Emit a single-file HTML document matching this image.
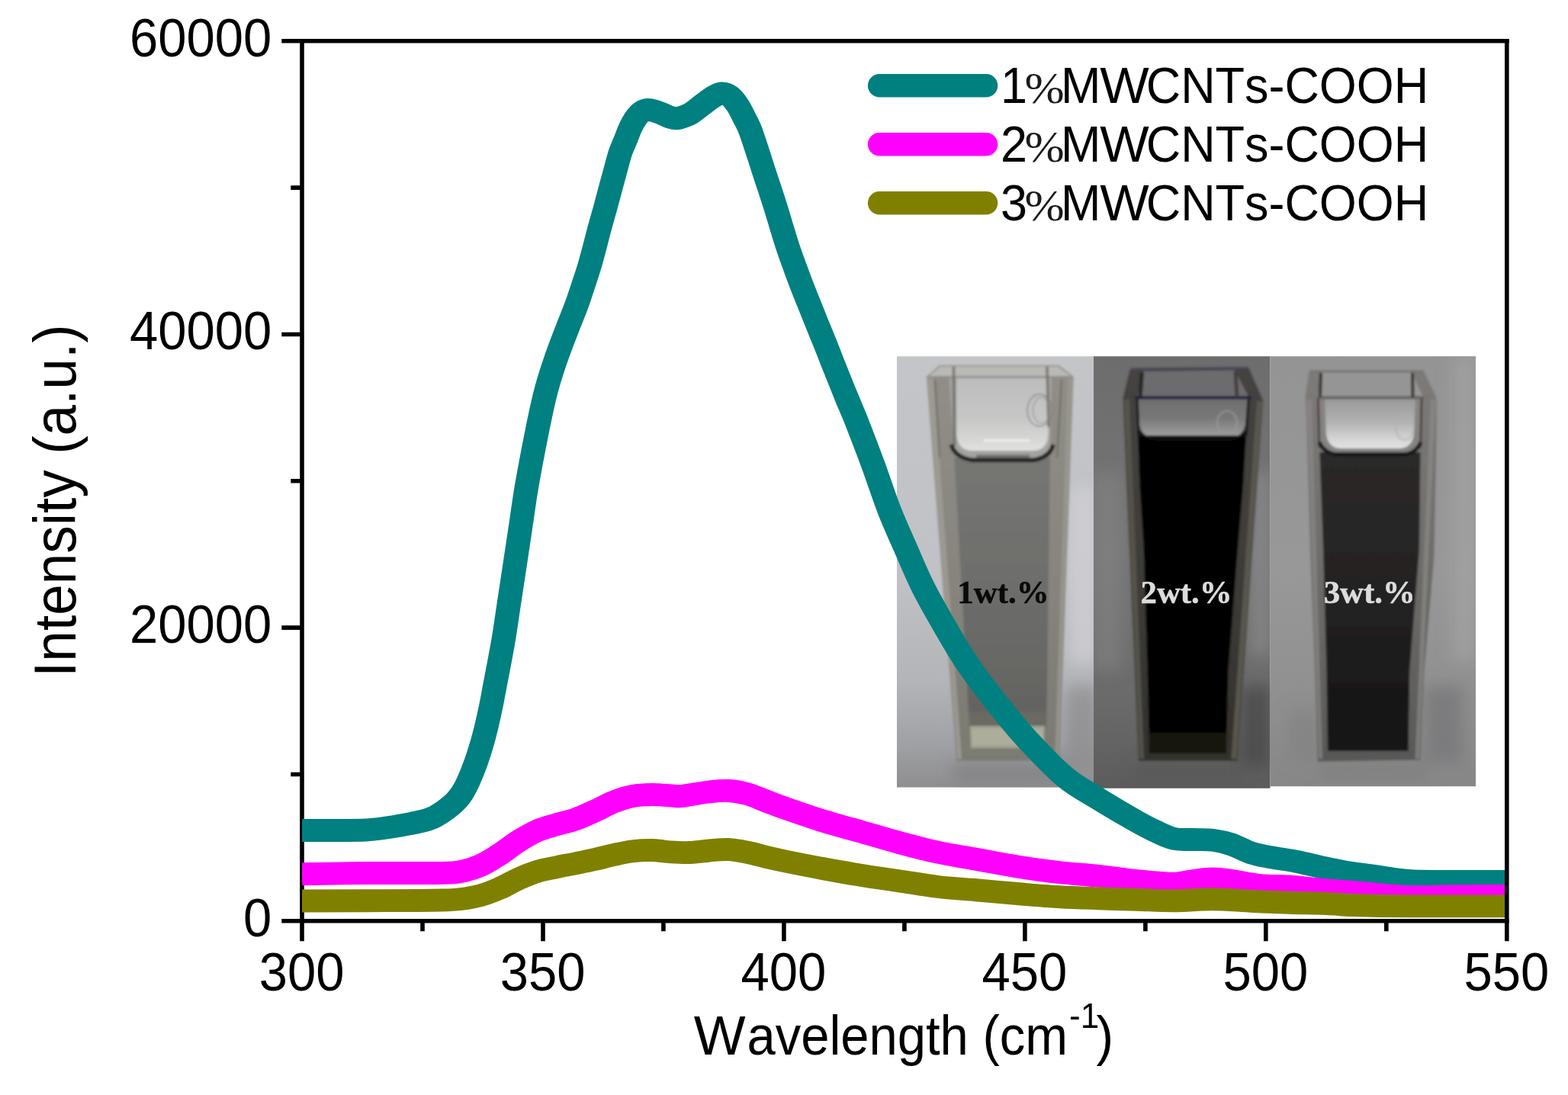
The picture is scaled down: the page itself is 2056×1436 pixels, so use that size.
<!DOCTYPE html>
<html lang="en"><head><meta charset="utf-8"><title>PL spectra of MWCNTs-COOH</title>
<style>html,body{margin:0;padding:0;background:#fff}body{width:2056px;height:1436px;overflow:hidden}svg{display:block}text{font-family:"Liberation Sans",sans-serif;fill:#000;font-kerning:none}.s{font-family:"Liberation Serif",serif}</style></head><body>
<svg xmlns="http://www.w3.org/2000/svg" width="2056" height="1436" viewBox="0 0 2056 1436">
<defs><clipPath id="plot"><rect x="396.0" y="0" width="1580.0" height="1436"/></clipPath></defs>
<rect width="2056" height="1436" fill="#fff"/>
<g stroke="#000" stroke-width="5.6" fill="none" stroke-linecap="butt">
<path d="M396.0,51.0 V1234.3"/>
<path d="M369.3,53.8 H1978.6"/>
</g>
<defs>
<filter id="b1" x="-5%" y="-5%" width="110%" height="110%"><feGaussianBlur stdDeviation="1.4"/></filter>
<filter id="b3" x="-20%" y="-20%" width="140%" height="140%"><feGaussianBlur stdDeviation="3"/></filter>
<filter id="b8" x="-40%" y="-40%" width="180%" height="180%"><feGaussianBlur stdDeviation="10"/></filter>
<clipPath id="p1"><rect x="1176" y="467.2" width="258" height="565.3"/></clipPath>
<clipPath id="p2"><rect x="1434" y="467.2" width="231.4" height="566.5"/></clipPath>
<clipPath id="p3"><rect x="1665.4" y="467.2" width="269.6" height="564"/></clipPath>
<linearGradient id="g1" x1="0" y1="0" x2="0" y2="1"><stop offset="0" stop-color="#c4c5c8"/><stop offset="0.5" stop-color="#c1c2c6"/><stop offset="0.75" stop-color="#b4b5b9"/><stop offset="0.9" stop-color="#a0a1a4"/><stop offset="1" stop-color="#8e8e91"/></linearGradient>
<linearGradient id="g2" x1="0" y1="0" x2="0" y2="1"><stop offset="0" stop-color="#6d6d6d"/><stop offset="0.45" stop-color="#767676"/><stop offset="0.8" stop-color="#6a6a6a"/><stop offset="1" stop-color="#5c5c5d"/></linearGradient>
<linearGradient id="g3" x1="0" y1="0" x2="0" y2="1"><stop offset="0" stop-color="#949494"/><stop offset="0.5" stop-color="#989898"/><stop offset="0.85" stop-color="#8e8e8e"/><stop offset="1" stop-color="#878788"/></linearGradient>
<linearGradient id="air1" x1="0" y1="0" x2="0" y2="1"><stop offset="0" stop-color="#bcbcbc"/><stop offset="0.55" stop-color="#c6c6c6"/><stop offset="0.85" stop-color="#d6d6d4"/><stop offset="1" stop-color="#e2e2e0"/></linearGradient>
<linearGradient id="air2" x1="0" y1="0" x2="0" y2="1"><stop offset="0" stop-color="#6e6e70"/><stop offset="0.5" stop-color="#787878"/><stop offset="0.85" stop-color="#959595"/><stop offset="1" stop-color="#a4a4a4"/></linearGradient>
<linearGradient id="air3" x1="0" y1="0" x2="0" y2="1"><stop offset="0" stop-color="#9a9a9a"/><stop offset="0.45" stop-color="#b0b0b0"/><stop offset="0.8" stop-color="#d4d4d4"/><stop offset="1" stop-color="#e4e4e4"/></linearGradient>
<linearGradient id="liq1" x1="0" y1="0" x2="0" y2="1"><stop offset="0" stop-color="#757573"/><stop offset="0.5" stop-color="#6d6d6b"/><stop offset="1" stop-color="#636361"/></linearGradient>
<linearGradient id="liq3" x1="0" y1="0" x2="0" y2="1"><stop offset="0" stop-color="#2b2929"/><stop offset="0.5" stop-color="#232222"/><stop offset="1" stop-color="#121212"/></linearGradient>
<linearGradient id="w1" x1="0" y1="0" x2="0" y2="1"><stop offset="0" stop-color="#908e86"/><stop offset="0.6" stop-color="#85837b"/><stop offset="1" stop-color="#7a7a72"/></linearGradient>
<linearGradient id="w2" x1="0" y1="0" x2="0" y2="1"><stop offset="0" stop-color="#444240"/><stop offset="0.5" stop-color="#3e3c38"/><stop offset="1" stop-color="#32302c"/></linearGradient>
<linearGradient id="w3" x1="0" y1="0" x2="0" y2="1"><stop offset="0" stop-color="#7c7a78"/><stop offset="0.5" stop-color="#6e6c6a"/><stop offset="1" stop-color="#585856"/></linearGradient>
</defs>
<g id="photo">
<g clip-path="url(#p1)">
<rect x="1176" y="467" width="258" height="566" fill="url(#g1)"/>
<g filter="url(#b8)">
<rect x="1403" y="640" width="34" height="230" fill="#cfd0d5" opacity="0.8"/>
<rect x="1398" y="900" width="40" height="110" fill="#8a8a8d" opacity="0.7"/>
<rect x="1250" y="1000" width="150" height="26" fill="#7e7e80" opacity="0.7"/>
</g>
<g filter="url(#b1)">
<polygon points="1232.0,479.0 1388.0,479.0 1407.5,494.0 1389.0,997.6 1254.4,997.6 1215.0,494.0" fill="url(#w1)"/>
<polygon points="1216.0,496.0 1224.0,496.0 1261.2,995.0 1255.2,995.0" fill="#a09e96" opacity="0.8"/>
<polygon points="1400.0,496.0 1406.5,496.0 1388.1,995.0 1383.1,995.0" fill="#9a9890" opacity="0.8"/>
<polygon points="1233.0,480.5 1387.0,480.5 1405.0,494.0 1217.0,494.0" fill="#b9b9b5"/>
<path d="M1244.3,494 H1379.1 L1377.0,584 Q1376.8,606 1358,606 H1272 Q1251.3,606 1250.4,584 Z" fill="#a3a39f"/>
<path d="M1254,494 H1375 L1374.5,570 Q1373,591 1354,591 H1275 Q1256,591 1254.5,570 Z" fill="url(#air1)"/>
<rect x="1290" y="576" width="60" height="3" fill="#f4f4f2" opacity="0.8"/>
<polygon points="1251.3,600.0 1376.8,600.0 1372.5,934.0 1270.0,934.0" fill="url(#liq1)"/>
<polygon points="1270.0,934.0 1372.5,934.0 1372.0,953.0 1271.0,953.0" fill="#6a6a63"/>
<polygon points="1272.0,952.0 1369.5,952.0 1369.0,981.0 1273.0,981.0" fill="#a3a393"/>
<polygon points="1274.0,956.0 1367.0,956.0 1367.0,977.0 1275.0,977.0" fill="#adad9c"/>
<path d="M1218,494.5 H1404" stroke="#8e8c84" stroke-width="2.5" fill="none"/>
<path d="M1250.5,481 L1251.5,585 M1373,481 L1375,560" stroke="#6c6a62" stroke-width="3.5" fill="none" opacity="0.85"/>
<path d="M1226,498 L1232,600 M1392,498 L1386,600" stroke="#5e5c56" stroke-width="2" fill="none" opacity="0.7"/>
<path d="M1247.3,583 Q1252,600 1276,603.5 H1354 Q1377,600 1381.0,583" stroke="#242424" stroke-width="5.5" fill="none"/>
<path d="M1280,599 H1350" stroke="#4a4a4a" stroke-width="5" fill="none" opacity="0.6"/>
<ellipse cx="1363" cy="538" rx="16" ry="21" stroke="#7e7e7e" stroke-width="1.3" fill="none"/>
<ellipse cx="1365.5" cy="538" rx="11" ry="17" stroke="#8c8c8c" stroke-width="1.1" fill="none"/>
</g></g>
<g clip-path="url(#p2)">
<rect x="1434" y="467" width="232" height="567" fill="url(#g2)"/>
<g filter="url(#b8)">
<rect x="1434" y="620" width="36" height="260" fill="#858585" opacity="0.55"/>
<rect x="1640" y="620" width="26" height="240" fill="#8c8c8e" opacity="0.7"/>
<rect x="1626" y="900" width="40" height="105" fill="#474748" opacity="0.75"/>
<rect x="1490" y="1000" width="140" height="24" fill="#555556" opacity="0.6"/>
</g>
<g filter="url(#b1)">
<polygon points="1482.0,484.0 1637.0,482.0 1656.0,525.0 1622.2,997.6 1493.2,997.6 1472.5,522.0" fill="url(#w2)"/>
<polygon points="1474.0,524.0 1481.0,524.0 1500.1,995.0 1494.1,995.0" fill="#57554c" opacity="0.9"/>
<polygon points="1648.0,526.0 1655.0,526.0 1621.4,995.0 1614.4,995.0" fill="#5c5a50" opacity="0.9"/>
<polygon points="1499.0,487.0 1619.0,485.5 1637.0,520.0 1491.0,521.0" fill="#6c6c6e"/>
<path d="M1493,523 H1636 L1633,556 Q1629,574 1612,574 H1514 Q1497,574 1494,556 Z" fill="url(#air2)"/>
<polygon points="1492.0,571.0 1634.0,571.0 1630.0,638.0 1623.0,720.0 1610.5,880.0 1608.5,961.0 1506.5,961.0 1504.6,880.0 1499.7,720.0 1494.4,638.0" fill="#020202"/>
<polygon points="1506.5,961.0 1608.5,961.0 1608.0,988.0 1507.0,988.0" fill="#15150c"/>
<path d="M1488.5,521.5 H1640.6" stroke="#1d1d40" stroke-width="4" fill="none"/>
<path d="M1483,484 L1636,482.6" stroke="#48485a" stroke-width="3" fill="none"/>
<path d="M1497.5,488 L1495,521" stroke="#262626" stroke-width="5" fill="none"/>
<path d="M1620,487 L1622,521" stroke="#463c3c" stroke-width="5" fill="none"/>
<path d="M1491,524 L1493,572 M1637,524 L1634,572" stroke="#161616" stroke-width="3" fill="none"/>
<path d="M1494,566 Q1500,575 1516,576 H1612 Q1628,575 1633,566" stroke="#0a0a0a" stroke-width="4" fill="none"/>
<ellipse cx="1609" cy="554" rx="13" ry="15" stroke="#9a9a9a" stroke-width="2.2" fill="none" opacity="0.8"/>
</g></g>
<g clip-path="url(#p3)">
<rect x="1665" y="467" width="271" height="565" fill="url(#g3)"/>
<g filter="url(#b8)">
<rect x="1868" y="900" width="50" height="100" fill="#78787a" opacity="0.8"/>
<rect x="1690" y="930" width="40" height="70" fill="#808082" opacity="0.6"/>
<rect x="1730" y="1000" width="140" height="20" fill="#7a7a7c" opacity="0.6"/>
<rect x="1905" y="467" width="30" height="400" fill="#a4a4a4" opacity="0.7"/>
</g>
<g filter="url(#b1)">
<polygon points="1716.5,486.0 1866.7,486.0 1883.6,522.0 1883.6,560.0 1880.3,730.0 1867.2,880.0 1862.0,996.5 1728.0,998.5 1724.3,880.0 1718.5,730.0 1712.8,540.0 1711.7,522.0" fill="url(#w3)"/>
<polygon points="1713.5,524.0 1720.0,524.0 1734.0,995.0 1729.0,995.0" fill="#8a8886" opacity="0.7"/>
<polygon points="1876.0,524.0 1882.5,524.0 1861.0,995.0 1855.5,995.0" fill="#8c8a86" opacity="0.7"/>
<polygon points="1733.0,488.5 1851.0,488.5 1866.0,520.5 1728.0,520.5" fill="#959595"/>
<path d="M1729,523 H1864 L1862.5,576 Q1859,597 1840,597 H1754 Q1734,597 1730.5,576 Z" fill="#858381"/>
<path d="M1737,523.5 H1856 L1854,570 Q1851,588 1834,588 H1759 Q1742,588 1739,570 Z" fill="url(#air3)"/>
<polygon points="1730.3,593.0 1862.5,593.0 1861.0,720.0 1848.2,880.0 1846.5,985.0 1741.0,985.0 1739.4,880.0 1735.0,720.0" fill="url(#liq3)"/>
<path d="M1726.8,521.5 H1867.2" stroke="#686260" stroke-width="4" fill="none"/>
<path d="M1718,487 H1866" stroke="#787674" stroke-width="3" fill="none"/>
<path d="M1732,489 L1731,521 M1852,489 L1852.5,521" stroke="#3a3028" stroke-width="4" fill="none"/>
<path d="M1728.5,523 L1730,587 M1864,523 L1862.5,587" stroke="#463836" stroke-width="2.6" fill="none"/>
<path d="M1730,580 Q1736,595 1756,596.5 H1838 Q1857,595 1863,580" stroke="#171717" stroke-width="5" fill="none"/>
<ellipse cx="1842" cy="560" rx="12" ry="17" stroke="#b0b0b0" stroke-width="2" fill="none" opacity="0.8"/>
</g></g>
<text class="s" font-weight="bold" font-size="41" transform="translate(1255.3,791) scale(1.045,1.02)" style="font-family:'Liberation Serif',serif;fill:#0a0a0a;stroke:#0a0a0a;stroke-width:0.5">1wt.%</text>
<text class="s" font-weight="bold" font-size="41" transform="translate(1495.5,791) scale(1.045,1.02)" style="font-family:'Liberation Serif',serif;fill:#dcdcdc;stroke:#dcdcdc;stroke-width:0.5">2wt.%</text>
<text class="s" font-weight="bold" font-size="41" transform="translate(1735.7,791) scale(1.045,1.02)" style="font-family:'Liberation Serif',serif;fill:#dcdcdc;stroke:#dcdcdc;stroke-width:0.5">3wt.%</text>
</g>
<g clip-path="url(#plot)"><g transform="scale(1.050,1)" fill="none" stroke-width="29.9" stroke-linejoin="round" stroke-linecap="butt">
<path stroke="#008080" d="M377.14,1089.00 C387.94,1089.00 398.73,1089.07 409.52,1089.00 C425.40,1088.90 441.30,1089.21 457.14,1088.50 C465.11,1088.14 473.05,1086.94 480.95,1085.80 C488.92,1084.64 496.85,1083.14 504.76,1081.60 C512.73,1080.04 520.73,1078.54 528.57,1076.50 C532.64,1075.44 536.71,1074.12 540.48,1072.30 C544.64,1070.29 548.56,1067.64 552.38,1065.00 C555.70,1062.71 558.85,1060.14 561.90,1057.50 C564.63,1055.14 567.35,1052.71 569.71,1050.00 C572.43,1046.88 575.01,1043.55 577.14,1040.00 C580.02,1035.21 582.56,1030.15 584.76,1025.00 C588.27,1016.81 591.40,1008.43 594.29,1000.00 C597.11,991.76 599.59,983.39 601.90,975.00 C604.19,966.73 606.18,958.37 608.10,950.00 C609.99,941.70 611.70,933.36 613.33,925.00 C614.96,916.69 616.36,908.34 617.86,900.00 C621.44,880.00 625.30,860.05 628.57,840.00 C631.28,823.38 633.40,806.67 635.81,790.00 C638.22,773.33 640.65,756.67 643.05,740.00 C645.44,723.34 647.81,706.67 650.19,690.00 C652.57,673.33 654.69,656.62 657.33,640.00 C659.99,623.29 663.07,606.65 666.10,590.00 C668.53,576.65 671.05,563.31 673.71,550.00 C675.72,539.98 677.80,529.96 680.10,520.00 C681.64,513.29 683.36,506.62 685.24,500.00 C687.61,491.62 690.17,483.29 692.86,475.00 C695.57,466.62 698.47,458.30 701.43,450.00 C704.41,441.63 707.57,433.33 710.67,425.00 C713.76,416.66 717.07,408.40 720.00,400.00 C722.88,391.73 725.45,383.35 728.10,375.00 C730.72,366.68 733.41,358.38 735.81,350.00 C738.18,341.72 740.25,333.35 742.38,325.00 C744.50,316.68 746.43,308.31 748.57,300.00 C750.72,291.65 753.06,283.34 755.24,275.00 C757.41,266.68 759.48,258.33 761.62,250.00 C763.76,241.66 765.91,233.33 768.10,225.00 C770.29,216.66 772.16,208.21 774.76,200.00 C776.66,194.01 779.36,188.28 781.62,182.40 C783.49,177.54 785.04,172.55 787.14,167.80 C788.94,163.75 790.89,159.68 793.33,156.00 C795.49,152.74 797.93,149.31 800.95,147.00 C803.17,145.31 806.29,144.26 809.05,144.00 C811.68,143.76 814.52,144.72 817.14,145.50 C820.71,146.56 824.17,148.05 827.62,149.50 C830.52,150.72 833.22,152.51 836.19,153.50 C839.00,154.44 842.05,155.38 844.95,155.30 C847.77,155.22 850.63,154.02 853.33,153.00 C856.70,151.72 860.14,150.37 863.14,148.40 C868.05,145.17 872.37,141.01 877.05,137.40 C881.64,133.85 886.06,129.97 890.95,126.90 C894.03,124.97 897.56,122.55 900.95,122.40 C904.38,122.25 908.64,123.81 911.43,126.00 C915.46,129.17 918.56,134.04 921.43,138.50 C924.37,143.07 926.45,148.20 928.86,153.10 C931.25,157.97 933.91,162.73 935.81,167.80 C939.53,177.70 942.51,187.90 945.71,198.00 C948.67,207.30 951.39,216.68 954.29,226.00 C956.88,234.35 959.60,242.65 962.19,251.00 C964.67,258.99 967.15,266.98 969.52,275.00 C971.98,283.31 974.24,291.68 976.67,300.00 C979.10,308.35 981.46,316.72 984.10,325.00 C986.76,333.38 989.69,341.69 992.57,350.00 C995.47,358.35 998.38,366.70 1001.43,375.00 C1004.51,383.37 1007.78,391.67 1010.95,400.00 C1014.13,408.33 1017.27,416.68 1020.48,425.00 C1023.69,433.34 1027.01,441.65 1030.19,450.00 C1033.36,458.31 1036.38,466.68 1039.52,475.00 C1042.67,483.34 1045.86,491.67 1049.05,500.00 C1051.99,507.67 1054.90,515.35 1057.90,523.00 C1061.44,532.02 1065.27,540.93 1068.67,550.00 C1076.13,569.93 1083.42,589.93 1090.48,610.00 C1097.48,629.93 1103.51,650.21 1110.86,670.00 C1117.13,686.88 1124.39,703.38 1131.33,720.00 C1138.32,736.72 1144.88,753.65 1152.67,770.00 C1160.76,786.99 1169.86,803.51 1178.95,820.00 C1188.24,836.85 1197.43,853.82 1207.81,870.00 C1218.82,887.16 1230.88,903.70 1243.14,920.00 C1255.96,937.03 1268.99,953.99 1283.05,970.00 C1298.26,987.33 1313.69,1004.86 1330.95,1020.00 C1343.15,1030.70 1357.74,1038.64 1371.43,1047.50 C1387.10,1057.64 1403.01,1067.46 1419.05,1077.00 C1426.82,1081.62 1434.73,1086.07 1442.86,1090.00 C1450.60,1093.74 1458.41,1098.09 1466.67,1100.00 C1474.28,1101.76 1482.54,1100.70 1490.48,1101.00 C1498.41,1101.30 1506.46,1100.73 1514.29,1101.80 C1522.33,1102.90 1530.42,1104.84 1538.10,1107.50 C1546.29,1110.34 1553.71,1115.46 1561.90,1118.30 C1569.58,1120.96 1577.72,1122.39 1585.71,1124.00 C1596.77,1126.22 1608.01,1127.52 1619.05,1129.80 C1631.82,1132.44 1644.40,1135.96 1657.14,1138.75 C1667.58,1141.03 1678.05,1143.19 1688.57,1145.00 C1697.10,1146.47 1705.72,1147.37 1714.29,1148.60 C1728.89,1150.70 1743.41,1153.86 1758.10,1155.00 C1775.16,1156.33 1792.38,1155.87 1809.52,1156.00 C1834.92,1156.20 1860.32,1156.00 1885.71,1156.00"/>
<path stroke="#ff00ff" d="M377.14,1146.25 C403.81,1145.83 430.47,1145.22 457.14,1145.00 C480.95,1144.80 504.77,1145.26 528.57,1145.00 C542.86,1144.84 557.40,1145.71 571.43,1143.75 C581.21,1142.38 590.97,1139.01 600.00,1135.00 C608.43,1131.26 616.10,1125.68 623.81,1120.50 C631.98,1115.01 639.40,1108.40 647.62,1103.00 C655.27,1097.98 663.13,1093.04 671.43,1089.25 C679.01,1085.79 687.25,1083.77 695.24,1081.25 C703.13,1078.77 711.31,1077.13 719.05,1074.25 C727.19,1071.22 735.00,1067.25 742.86,1063.50 C750.87,1059.67 758.47,1054.86 766.67,1051.50 C774.34,1048.36 782.37,1045.62 790.48,1044.00 C798.24,1042.45 806.34,1042.08 814.29,1042.00 C822.22,1041.92 830.16,1042.99 838.10,1043.50 C841.91,1043.74 845.74,1044.45 849.52,1044.25 C853.67,1044.03 857.78,1042.91 861.90,1042.25 C869.84,1040.99 877.74,1039.38 885.71,1038.50 C893.61,1037.63 901.64,1036.54 909.52,1037.00 C917.51,1037.46 925.63,1039.02 933.33,1041.25 C941.50,1043.61 949.19,1047.62 957.14,1050.75 C965.07,1053.87 972.95,1057.09 980.95,1060.00 C996.76,1065.75 1012.58,1071.54 1028.57,1076.75 C1044.32,1081.88 1060.32,1086.25 1076.19,1091.00 C1092.06,1095.75 1107.86,1100.77 1123.81,1105.25 C1139.61,1109.69 1155.43,1114.14 1171.43,1117.75 C1187.18,1121.31 1203.17,1123.76 1219.05,1126.75 C1238.09,1130.34 1257.08,1134.31 1276.19,1137.50 C1292.00,1140.14 1307.89,1142.37 1323.81,1144.25 C1339.64,1146.12 1355.59,1146.96 1371.43,1148.75 C1387.33,1150.55 1403.13,1153.33 1419.05,1155.00 C1434.88,1156.66 1450.84,1158.75 1466.67,1158.75 C1474.65,1158.75 1482.51,1156.05 1490.48,1155.00 C1498.39,1153.96 1506.35,1152.50 1514.29,1152.50 C1522.22,1152.50 1530.20,1153.86 1538.10,1155.00 C1549.88,1156.70 1561.51,1159.76 1573.33,1161.00 C1585.32,1162.26 1597.49,1161.57 1609.52,1162.50 C1625.43,1163.73 1641.26,1165.99 1657.14,1167.50 C1667.60,1168.49 1678.10,1169.12 1688.57,1170.00 C1711.75,1171.95 1734.88,1174.94 1758.10,1176.00 C1775.20,1176.78 1792.38,1175.63 1809.52,1175.50 C1834.92,1175.30 1860.32,1175.17 1885.71,1175.00"/>
<path stroke="#808000" d="M377.14,1181.50 C403.81,1181.42 430.48,1181.40 457.14,1181.25 C488.89,1181.07 520.65,1181.10 552.38,1180.50 C560.33,1180.35 568.32,1180.03 576.19,1179.00 C584.20,1177.95 592.26,1176.52 600.00,1174.25 C608.14,1171.86 616.08,1168.53 623.81,1165.00 C631.95,1161.28 639.51,1156.29 647.62,1152.50 C655.38,1148.87 663.29,1145.36 671.43,1142.75 C679.16,1140.27 687.28,1139.00 695.24,1137.25 C703.16,1135.50 711.12,1133.96 719.05,1132.25 C726.99,1130.54 734.95,1128.87 742.86,1127.00 C750.82,1125.12 758.69,1122.80 766.67,1121.00 C774.56,1119.22 782.47,1117.26 790.48,1116.25 C798.34,1115.26 806.36,1114.81 814.29,1115.00 C822.24,1115.19 830.14,1116.90 838.10,1117.40 C846.01,1117.90 853.99,1118.32 861.90,1118.00 C869.86,1117.68 877.76,1116.17 885.71,1115.50 C893.64,1114.83 901.63,1113.63 909.52,1114.00 C917.50,1114.38 925.48,1116.10 933.33,1117.75 C941.35,1119.43 949.18,1122.03 957.14,1124.00 C965.05,1125.95 972.99,1127.80 980.95,1129.50 C996.80,1132.88 1012.67,1136.16 1028.57,1139.25 C1044.41,1142.33 1060.28,1145.29 1076.19,1148.00 C1092.03,1150.70 1107.94,1153.00 1123.81,1155.50 C1139.68,1158.00 1155.49,1161.03 1171.43,1163.00 C1187.24,1164.95 1203.18,1165.81 1219.05,1167.25 C1238.10,1168.98 1257.13,1170.86 1276.19,1172.50 C1292.05,1173.86 1307.92,1175.29 1323.81,1176.25 C1339.67,1177.21 1355.55,1177.67 1371.43,1178.25 C1387.30,1178.83 1403.17,1179.25 1419.05,1179.75 C1434.92,1180.25 1450.80,1181.33 1466.67,1181.25 C1482.54,1181.17 1498.42,1179.17 1514.29,1179.25 C1530.16,1179.33 1546.03,1181.00 1561.90,1181.75 C1577.77,1182.50 1593.65,1183.21 1609.52,1183.75 C1625.39,1184.29 1641.28,1184.35 1657.14,1185.00 C1667.63,1185.43 1678.08,1186.65 1688.57,1187.00 C1711.73,1187.78 1734.92,1188.24 1758.10,1188.40 C1800.63,1188.70 1843.17,1188.40 1885.71,1188.40"/>
</g></g>
<g stroke="#000" stroke-width="5.6" fill="none" stroke-linecap="butt">
<path d="M369.3,1207.8 H1978.6"/>
<path d="M1975.8,51.0 V1234.3"/>
<path d="M712.0,1207.8 V1234.3 M1027.9,1207.8 V1234.3 M1343.9,1207.8 V1234.3 M1659.8,1207.8 V1234.3 M554.0,1207.8 V1221.3 M869.9,1207.8 V1221.3 M1185.9,1207.8 V1221.3 M1501.9,1207.8 V1221.3 M1817.8,1207.8 V1221.3 M369.3,823.1 H396.0 M369.3,438.5 H396.0 M381.3,1015.5 H396.0 M381.3,630.8 H396.0 M381.3,246.1 H396.0"/>
</g>
<text font-size="67" text-anchor="end" transform="translate(356.2,1227.7) scale(1,1.060)">0</text>
<text font-size="67" text-anchor="end" transform="translate(356.2,843.0) scale(1,1.060)">20000</text>
<text font-size="67" text-anchor="end" transform="translate(356.2,458.4) scale(1,1.060)">40000</text>
<text font-size="67" text-anchor="end" transform="translate(356.2,73.7) scale(1,1.060)">60000</text>
<text font-size="67" text-anchor="middle" transform="translate(395.6,1299.2) scale(1,1.060)">300</text>
<text font-size="67" text-anchor="middle" transform="translate(711.6,1299.2) scale(1,1.060)">350</text>
<text font-size="67" text-anchor="middle" transform="translate(1027.5,1299.2) scale(1,1.060)">400</text>
<text font-size="67" text-anchor="middle" transform="translate(1343.5,1299.2) scale(1,1.060)">450</text>
<text font-size="67" text-anchor="middle" transform="translate(1659.4,1299.2) scale(1,1.060)">500</text>
<text font-size="67" text-anchor="middle" transform="translate(1975.4,1299.2) scale(1,1.060)">550</text>
<text font-size="73" transform="translate(98.8,888) rotate(-90) scale(1,1.06)">Intensity (a.u.)</text>
<g font-size="67.7"><text transform="translate(909.8,1383) scale(1.062,1.06)">W</text><text transform="translate(979.5,1383) scale(0.989,1.06)">avelength (cm</text><text font-size="44" transform="translate(1402,1347.7) scale(1,1.06)">-1</text><text transform="translate(1437.4,1383) scale(1,1.06)">)</text></g>
<path d="M1153.2,112.3 H1293" stroke="#008080" stroke-width="30.6" stroke-linecap="round" fill="none"/>
<g transform="translate(0,134.5) scale(1,1.06)"><text font-size="62.9" x="1312" y="0">1</text><text class="s" font-size="58" transform="translate(1343.6,0) scale(1.08,0.94)" style="fill:#1a1a1a">%</text><text font-size="62.9" x="1391" y="0">M</text><text font-size="62.9" transform="translate(1442.3,0) scale(1.086,1)">W</text><text font-size="62.9" x="1502.8" y="0">CNTs-COOH</text></g>
<path d="M1153.2,189.3 H1293" stroke="#ff00ff" stroke-width="30.6" stroke-linecap="round" fill="none"/>
<g transform="translate(0,211.5) scale(1,1.06)"><text font-size="62.9" x="1312" y="0">2</text><text class="s" font-size="58" transform="translate(1343.6,0) scale(1.08,0.94)" style="fill:#1a1a1a">%</text><text font-size="62.9" x="1391" y="0">M</text><text font-size="62.9" transform="translate(1442.3,0) scale(1.086,1)">W</text><text font-size="62.9" x="1502.8" y="0">CNTs-COOH</text></g>
<path d="M1153.2,266.3 H1293" stroke="#808000" stroke-width="30.6" stroke-linecap="round" fill="none"/>
<g transform="translate(0,288.5) scale(1,1.06)"><text font-size="62.9" x="1312" y="0">3</text><text class="s" font-size="58" transform="translate(1343.6,0) scale(1.08,0.94)" style="fill:#1a1a1a">%</text><text font-size="62.9" x="1391" y="0">M</text><text font-size="62.9" transform="translate(1442.3,0) scale(1.086,1)">W</text><text font-size="62.9" x="1502.8" y="0">CNTs-COOH</text></g>
</svg></body></html>
